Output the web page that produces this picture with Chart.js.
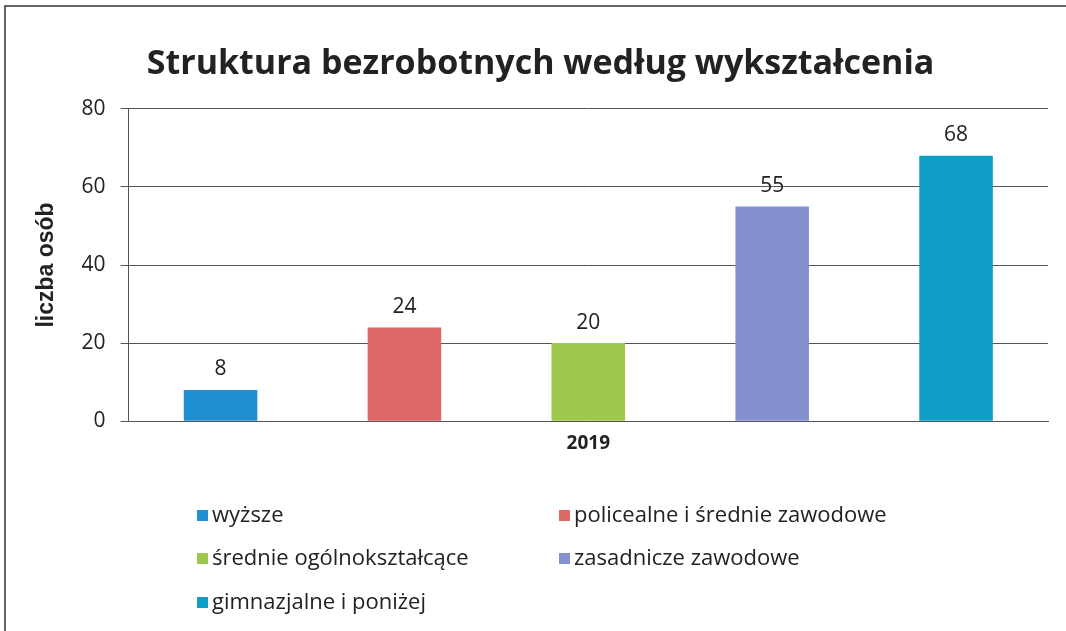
<!DOCTYPE html>
<html>
<head>
<meta charset="utf-8">
<script src="https://cdn.jsdelivr.net/npm/chart.js@4"></script>
<style>
  html, body { margin: 0; padding: 0; background: #fff; }
  #wrap { width: 1066px; height: 631px; position: relative; }
</style>
</head>
<body>
<div id="wrap"><canvas id="bar-chart"></canvas></div>
<script>
// --------- dane -----------
var years = ["2019"];
var seriesNames = ["wyższe", "policealne i średnie zawodowe", "średnie ogólnokształcące", "zasadnicze zawodowe", "gimnazjalne i poniżej"];
var seriesValues = [8, 24, 20, 55, 68];
var seriesColors = ["#2190d2", "#de6767", "#9dc84b", "#8590d0", "#0f9dc6"];
var yTicks = [0, 20, 40, 60, 80];

var datasets = [];
for (var i = 0; i < seriesNames.length; i++) {
  datasets.push({
    label: seriesNames[i],
    data: [seriesValues[i]],
    backgroundColor: seriesColors[i],
    borderWidth: 0,
    categoryPercentage: 1.0,
    barPercentage: 0.40
  });
}

// etykiety wartości nad słupkami
var valueLabels = {
  id: 'valueLabels',
  afterDatasetsDraw: function(chart) {
    var ctx = chart.ctx;
    ctx.save();
    ctx.font = '21px "Open Sans"';
    ctx.fillStyle = '#222';
    ctx.textAlign = 'center';
    ctx.textBaseline = 'bottom';
    chart.data.datasets.forEach(function(ds, i) {
      chart.getDatasetMeta(i).data.forEach(function(bar, j) {
        ctx.fillText(ds.data[j], bar.x, bar.y - 10);
      });
    });
    ctx.restore();
  }
};

// legenda w dwóch kolumnach + ramka
var legendBox = {
  id: 'legendBox',
  afterDraw: function(chart) {
    var ctx = chart.ctx;
    ctx.save();
    // ramka
    ctx.strokeStyle = '#333';
    ctx.lineWidth = 1.5;
    ctx.beginPath();
    ctx.moveTo(5, 631);
    ctx.lineTo(5, 6);
    ctx.lineTo(1066, 6);
    ctx.stroke();

    var colX = [197, 559];
    var rowY = [516, 559, 603];
    ctx.font = '22px "Open Sans"';
    ctx.textBaseline = 'middle';
    ctx.textAlign = 'left';
    chart.data.datasets.forEach(function(ds, i) {
      var x = colX[i % 2];
      var y = rowY[Math.floor(i / 2)];
      ctx.fillStyle = ds.backgroundColor;
      ctx.fillRect(x, y - 6, 11, 11);
      ctx.fillStyle = '#222';
      ctx.fillText(ds.label, x + 15, y);
    });
    ctx.restore();
  }
};

new Chart(document.getElementById("bar-chart"), {
  type: 'bar',
  data: {
    labels: years,
    datasets: datasets
  },
  plugins: [valueLabels, legendBox],
  options: {
    responsive: true,
    maintainAspectRatio: false,
    animation: false,
    layout: { padding: { left: 33, right: 18, top: 10, bottom: 165 } },
    plugins: {
      legend: { display: false },
      tooltip: { enabled: false },
      title: {
        display: true,
        text: 'Struktura bezrobotnych według wykształcenia',
        color: '#222',
        font: { family: '"Open Sans"', size: 34, weight: 'bold' },
        padding: { top: 34, bottom: 24 }
      }
    },
    scales: {
      x: {
        grid: { display: false, drawTicks: false },
        border: { display: true, color: '#555', width: 1 },
        ticks: {
          color: '#222',
          padding: 11,
          font: { family: '"Open Sans"', size: 19, weight: 'bold' }
        }
      },
      y: {
        min: 0,
        max: 80,
        afterBuildTicks: function(axis) {
          axis.ticks = yTicks.map(function(v) { return { value: v }; });
        },
        grid: { color: '#555', lineWidth: 1, tickLength: 8 },
        border: { display: true, color: '#555', width: 1 },
        ticks: {
          color: '#222',
          padding: 15,
          font: { family: '"Open Sans"', size: 21 }
        },
        title: {
          display: true,
          text: 'liczba osób',
          color: '#222',
          padding: { top: 0, bottom: 6 },
          font: { family: '"Liberation Sans"', size: 23, weight: 'bold' }
        }
      }
    }
  }
});
</script>
</body>
</html>
